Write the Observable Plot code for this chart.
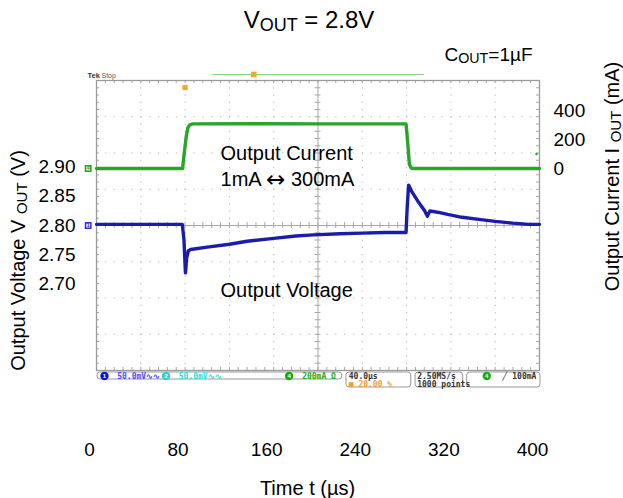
<!DOCTYPE html>
<html>
<head>
<meta charset="utf-8">
<script src="https://cdn.jsdelivr.net/npm/d3@7"></script>
<script src="https://cdn.jsdelivr.net/npm/@observablehq/plot@0.6"></script>
<style>
  html, body { margin: 0; padding: 0; background: #fff; }
</style>
</head>
<body>
<div id="chart"></div>
<script>
// ---- data ----
const timeTicks = [0, 80, 160, 240, 320, 400];          // µs labels
const voltTicks = [2.70, 2.75, 2.80, 2.85, 2.90];       // V labels
const currentTicks = [0, 200, 400];                     // mA labels

// output voltage trace (time µs, volts)
const timeV = [0, 77.5, 79, 80.3, 81.5, 83, 85, 100, 120, 136, 160, 180, 196, 220, 240, 260, 279.5, 280.5, 281.8, 285, 290, 296, 298.8, 301, 304, 310, 317, 330, 347, 360, 376, 390, 400];
const voltage = [2.802, 2.802, 2.775, 2.719, 2.745, 2.757, 2.759, 2.763, 2.768, 2.773, 2.778, 2.782, 2.784, 2.786, 2.787, 2.788, 2.788, 2.830, 2.869, 2.857, 2.842, 2.826, 2.816, 2.825, 2.824, 2.822, 2.819, 2.814, 2.810, 2.807, 2.804, 2.802, 2.802];

// output current trace (time µs, mA)
const timeI = [0, 77.7, 79, 81, 82.5, 84, 87, 150, 200, 279.5, 281, 282.5, 284, 286, 400];
const current = [0, 0, 90, 220, 280, 300, 308, 309, 308, 308, 180, 30, 5, 0, 0];

// scope annotations
const triggerTime = [80];
const triggerLevel = [100];

// scope status-bar entries
const statusTexts = [
  {t: 18.7, row: 0, label: "50.0mV\u223F\u223F", color: "#4a4aff"},
  {t: 74.3, row: 0, label: "50.0mV\u223F\u223F", color: "#38d8d8"},
  {t: 185.7, row: 0, label: "200mA \u03A9", color: "#22aa22"},
  {t: 227.8, row: 0, label: "40.0\u00B5s", color: "#333"},
  {t: 227.8, row: 1, label: "\u25A0 20.00 %", color: "#f0a030"},
  {t: 289.6, row: 0, label: "2.50MS/s", color: "#333"},
  {t: 289.6, row: 1, label: "1000 points", color: "#333"},
  {t: 366.3, row: 0, label: "\u2571", color: "#333"},
  {t: 375.4, row: 0, label: "100mA", color: "#333"}
];
const statusBadges = [
  {t: 7.2, label: "1", color: "#1010e0"},
  {t: 62.8, label: "2", color: "#30d0d0"},
  {t: 173.9, label: "4", color: "#18a818"},
  {t: 352.4, label: "4", color: "#18a818"}
];
const statusBoxes = [
  {t1: 0.9, t2: 221.9, tall: false},
  {t1: 225.7, t2: 284.2, tall: true},
  {t1: 288.1, t2: 331.1, tall: true},
  {t1: 334.7, t2: 400.9, tall: true}
];

// ---- scale setup ----
const vCenter = 2.80, vHalf = 0.2479;          // scope screen: 8 divisions
const iZeroV = 2.8974, vPerMA = 0.000248;       // right axis mapping (mA -> plotted V)
const toV = mA => iZeroV + mA * vPerMA;
const yMin = vCenter - vHalf, yMax = vCenter + vHalf;
const px = 2 * vHalf / 290;                     // one pixel in V units

const xDivs = d3.range(40, 400, 40).filter(d => d !== 200);
const yDivs = d3.range(1, 8).filter(i => i !== 4).map(i => yMin + i * (2 * vHalf / 8));
const minorT = d3.range(0, 401, 8);
const minorV = d3.range(41).map(i => yMin + i * (2 * vHalf / 40));

const vData = timeV.map((t, i) => ({t, v: voltage[i]}));
const iData = timeI.map((t, i) => ({t, v: toV(current[i])}));

const gridColor = "#b8b8b8";
const chart = Plot.plot({
  width: 623,
  height: 498,
  marginTop: 80,
  marginRight: 84,
  marginBottom: 128,
  marginLeft: 96,
  style: {fontFamily: "'Liberation Sans', Arial, sans-serif", background: "#fff", color: "#000"},
  x: {domain: [0, 400]},
  y: {domain: [yMin, yMax]},
  marks: [
    // scope grid
    Plot.ruleX(xDivs, {stroke: gridColor, strokeDasharray: "1.3,5.95"}),
    Plot.ruleY(yDivs, {stroke: gridColor, strokeDasharray: "1.3,7.56"}),
    Plot.ruleX([200], {stroke: "#a8a8a8"}),
    Plot.ruleY([vCenter], {stroke: "#a8a8a8"}),
    Plot.ruleX(minorT, {y1: vCenter - 3 * px, y2: vCenter + 3 * px, stroke: "#a8a8a8"}),
    Plot.ruleY(minorV, {x1: 200 - 2.7, x2: 200 + 2.7, stroke: "#a8a8a8"}),
    Plot.ruleX(minorT, {y1: yMax - 3 * px, y2: yMax, stroke: "#a8a8a8"}),
    Plot.ruleX(minorT, {y1: yMin, y2: yMin + 3 * px, stroke: "#a8a8a8"}),
    Plot.ruleY(minorV, {x1: 0, x2: 2.7, stroke: "#a8a8a8"}),
    Plot.ruleY(minorV, {x1: 400 - 2.7, x2: 400, stroke: "#a8a8a8"}),
    Plot.frame({stroke: "#9a9a9a", strokeWidth: 1.3}),

    // scope top indicators
    Plot.ruleY([yMax + 6 * px], {x1: 105, x2: 296.2, stroke: "#88d088", strokeWidth: 1}),
    Plot.dot([142], {x: d => d, y: yMax + 6 * px, symbol: "square", r: 3.2, fill: "#f3a640"}),
    Plot.dot(triggerTime, {x: d => d, y: yMax - 7 * px, symbol: "square", r: 3, fill: "#f3a640"}),
    Plot.text(["Tek"], {x: -8.1, y: yMax + 5 * px, text: d => d, textAnchor: "start", fontSize: 7.5, fontWeight: "bold", fill: "#333"}),
    Plot.text(["Stop"], {x: 4.5, y: yMax + 5 * px, text: d => d, textAnchor: "start", fontSize: 7, fill: "#555"}),

    // channel markers on left edge
    Plot.dot([0], {x: -7.5, y: toV(0), symbol: "square", r: 3, fill: "#fff", stroke: "#22a022"}),
    Plot.text(["4"], {x: -7.5, y: toV(0), text: d => d, fontSize: 6, fill: "#22a022", fontWeight: "bold"}),
    Plot.dot([0], {x: -7.5, y: vCenter, symbol: "square", r: 3, fill: "#fff", stroke: "#3030c0"}),
    Plot.text(["1"], {x: -7.5, y: vCenter, text: d => d, fontSize: 6, fill: "#3030c0", fontWeight: "bold"}),
    Plot.dot(triggerLevel, {x: 397.3, y: d => toV(d), r: 1.3, fill: "#22b022"}),

    // traces
    Plot.line(iData, {x: "t", y: "v", stroke: "#2aa52a", strokeWidth: 3.4, strokeLinejoin: "round"}),
    Plot.line(vData, {x: "t", y: "v", stroke: "#1c1caa", strokeWidth: 3.4, strokeLinejoin: "round"}),

    // status bar
    Plot.rect(statusBoxes, {x1: "t1", x2: "t2", y1: d => yMin - 2 * px, y2: d => d.tall ? yMin - 17 * px : yMin - 9 * px, rx: 3, fill: "#fff", stroke: "#999", strokeWidth: 1}),
    Plot.dot(statusBadges, {x: "t", y: yMin - 5.5 * px, r: 4.2, fill: "color"}),
    Plot.text(statusBadges, {x: "t", y: yMin - 5.5 * px, text: "label", fontSize: 6, fill: "#fff", fontWeight: "bold"}),
    Plot.text(statusTexts, {x: "t", y: d => yMin - (d.row ? 14 : 5.5) * px, text: "label", fill: "color", textAnchor: "start", fontSize: 8, fontWeight: "bold", fontFamily: "'DejaVu Sans Mono', monospace"}),

    // in-plot annotations
    Plot.text(["Output Current"], {x: 112, y: 2.9226, text: d => d, textAnchor: "start", fontSize: 20}),
    Plot.text(["1mA \u2194 300mA"], {x: 112, y: 2.879, text: d => d, textAnchor: "start", fontSize: 20}),
    Plot.text(["Output Voltage"], {x: 112, y: 2.688, text: d => d, textAnchor: "start", fontSize: 20}),

    // axes
    Plot.axisY(voltTicks, {anchor: "left", tickSize: 0, tickPadding: 21, fontSize: 19, tickFormat: d3.format(".2f"), label: null}),
    Plot.axisY(currentTicks.map(toV), {anchor: "right", tickSize: 0, tickPadding: 14, fontSize: 19, tickFormat: v => String(Math.round((v - iZeroV) / vPerMA)), label: null}),
    Plot.axisX(timeTicks, {anchor: "bottom", tickSize: 0, tickPadding: 71.5, fontSize: 19, dx: -7, label: null}),

    // titles and axis labels
    Plot.text(["V_{OUT} = 2.8V"], {frameAnchor: "top", textAnchor: "middle", lineAnchor: "middle", text: d => d, dx: -9, dy: -60, fontSize: 24}),
    Plot.text(["C_{OUT}=1\u00B5F"], {frameAnchor: "top", textAnchor: "middle", lineAnchor: "middle", text: d => d, dx: 170.5, dy: -26, fontSize: 19}),
    Plot.text(["Output Voltage V _{OUT} (V)"], {frameAnchor: "left", textAnchor: "middle", lineAnchor: "middle", text: d => d, rotate: -90, dx: -78, dy: 35, fontSize: 20}),
    Plot.text(["Output Current I _{OUT} (mA)"], {frameAnchor: "right", textAnchor: "middle", lineAnchor: "middle", text: d => d, rotate: -90, dx: 73, dy: -49, fontSize: 20}),
    Plot.text(["Time t (\u00B5s)"], {frameAnchor: "bottom", textAnchor: "middle", lineAnchor: "middle", text: d => d, dx: -10.5, dy: 118, fontSize: 20})
  ]
});

// render "_{...}" as subscripts and give the double arrow a fuller glyph
d3.select(chart).selectAll("text").each(function() {
  const s = this.textContent;
  const el = d3.select(this);
  if (s.includes("\u2194")) {
    const [a, b] = s.split("\u2194");
    el.text(null);
    el.append("tspan").text(a);
    el.append("tspan").attr("font-family", "'DejaVu Sans', sans-serif").attr("font-size", "1.15em").attr("dy", "1").text("\u2194");
    el.append("tspan").attr("dy", "-1").text(b);
    return;
  }
  if (!s.includes("_{")) return;
  const parts = s.split(/_\{|\}/);
  el.text(null);
  let shifted = false;
  parts.forEach((p, i) => {
    if (p === "") return;
    const ts = el.append("tspan").text(p);
    if (i % 2 === 1) {
      ts.attr("font-size", "0.75em").attr("dy", "2.5");
      shifted = true;
    } else if (shifted) {
      ts.attr("dy", "-2.5");
      shifted = false;
    }
  });
});

document.getElementById("chart").appendChild(chart);
</script>
</body>
</html>
